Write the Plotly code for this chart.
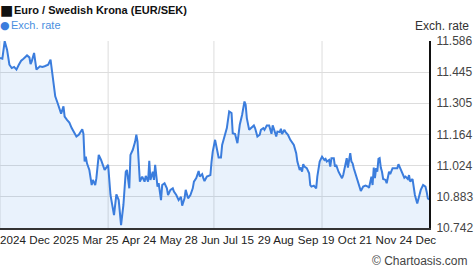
import pandas as pd
import plotly.graph_objects as go

start_date = "2024-12-24"

days = [0, 2, 4, 6, 8, 9, 10, 12, 14, 16,
        18, 20, 23, 25, 26, 27, 29, 30, 31, 34,
        36, 38, 41, 43, 44, 45, 47, 49, 51, 52,
        54, 55, 57, 59, 61, 63, 65, 67, 68, 70,
        71, 72, 73, 74, 76, 78, 79, 81, 82, 84,
        86, 88, 89, 91, 92, 94, 96, 97, 99, 101,
        103, 105, 107, 108, 110, 111, 113, 115, 116, 117,
        119, 121, 123, 124, 126, 127, 128, 130, 131, 132,
        134, 135, 137, 138, 140, 142, 143, 145, 147, 148,
        150, 152, 154, 155, 157, 158, 160, 162, 164, 165,
        167, 169, 170, 172, 173, 174, 176, 179, 180, 181,
        183, 184, 186, 188, 189, 191, 193, 195, 197, 198,
        200, 202, 204, 206, 208, 209, 210, 212, 214, 216,
        217, 219, 221, 222, 224, 225, 227, 229, 231, 232,
        233, 235, 236, 238, 239, 240, 242, 243, 245, 247,
        250, 252, 253, 255, 256, 257, 258, 259, 261, 263,
        264, 265, 267, 269, 270, 272, 274, 276, 277, 278,
        280, 281, 282, 284, 285, 286, 288, 291, 292, 294,
        295, 296, 298, 299, 300, 301, 303, 305, 307, 309,
        311, 313, 314, 316, 317, 318, 319, 320, 321, 322,
        323, 324, 325, 326, 328, 329, 330, 331, 332, 334,
        335, 338, 339, 340, 342, 344, 345, 347, 348, 349,
        351, 352, 353, 355, 356, 358, 360, 362, 363, 364, 365]

rates = [11.510, 11.506, 11.585, 11.547, 11.479, 11.472, 11.464, 11.469, 11.457, 11.479,
         11.497, 11.506, 11.521, 11.512, 11.482, 11.494, 11.532, 11.494, 11.457, 11.472,
         11.469, 11.472, 11.479, 11.502, 11.464, 11.404, 11.336, 11.306, 11.268, 11.258,
         11.291, 11.245, 11.230, 11.218, 11.193, 11.170, 11.155, 11.163, 11.170, 11.188,
         11.167, 11.042, 11.064, 11.034, 11.004, 10.936, 10.959, 10.936, 10.967, 11.072,
         11.049, 11.012, 11.004, 11.019, 11.027, 10.891, 10.831, 10.800, 10.894, 10.868,
         10.755, 10.846, 10.996, 11.004, 10.921, 11.072, 11.095, 11.132, 11.163, 11.132,
         10.951, 10.974, 10.951, 10.977, 10.951, 11.045, 10.959, 10.996, 10.959, 11.027,
         10.929, 10.944, 10.868, 10.936, 10.944, 10.921, 10.891, 10.914, 10.921, 10.906,
         10.891, 10.868, 10.883, 10.843, 10.876, 10.914, 10.876, 10.891, 10.921, 10.951,
         10.967, 10.999, 10.974, 10.985, 10.967, 10.954, 10.974, 10.981, 11.042, 11.087,
         11.140, 11.117, 11.060, 11.060, 11.117, 11.155, 11.193, 11.268, 11.261, 11.170,
         11.166, 11.125, 11.208, 11.253, 11.313, 11.298, 11.238, 11.185, 11.193, 11.205,
         11.193, 11.155, 11.163, 11.185, 11.193, 11.185, 11.205, 11.205, 11.167, 11.205,
         11.190, 11.155, 11.177, 11.175, 11.190, 11.166, 11.185, 11.175, 11.163, 11.140,
         11.117, 11.080, 11.042, 11.004, 11.015, 10.996, 11.030, 11.019, 11.012, 10.989,
         10.936, 10.929, 10.933, 10.921, 10.975, 11.042, 11.064, 11.049, 11.054, 11.042,
         11.049, 11.019, 11.057, 11.057, 11.019, 11.027, 10.996, 10.967, 10.981, 11.034,
         11.057, 11.015, 11.080, 11.042, 11.034, 11.012, 10.974, 10.936, 10.909, 10.929,
         10.933, 10.929, 10.924, 10.974, 10.936, 11.015, 10.967, 11.012, 10.996, 11.054,
         11.057, 11.015, 10.996, 10.963, 10.959, 10.944, 10.981, 10.996, 10.985, 11.012,
         11.012, 11.012, 11.030, 11.019, 10.996, 10.969, 10.974, 10.963, 10.981, 10.951,
         10.963, 10.924, 10.891, 10.853, 10.876, 10.914, 10.936, 10.929, 10.906, 10.876, 10.870]

assert len(days) == len(rates)

# x tick labels (positions in days from start)
xtick_days = [11, 46, 85.5, 118.3, 152, 193.6, 234.6, 269, 302, 345.3]
xtick_text = ["2024", "Dec 2025", "Mar 25", "Apr 24", "May 28",
              "Jun Jul 15", "29 Aug", "Sep 19", "Oct 21", "Nov 24 Dec"]
xgrid_days = [0, 92, 182, 274]

ytick_vals = [10.742, 10.883, 11.024, 11.164, 11.305, 11.445, 11.586]
ytick_text = ["10.742", "10.883", "11.024", "11.164", "11.305", "11.445", "11.586"]

title_text = "Euro / Swedish Krona (EUR/SEK)"
legend_text = "Exch. rate"
axis_title = "Exch. rate"
credit_text = "© Chartoasis.com"

t0 = pd.Timestamp(start_date)
dates = t0 + pd.to_timedelta(days, unit="D")
xtick_dates = t0 + pd.to_timedelta(xtick_days, unit="D")
xgrid_dates = t0 + pd.to_timedelta(xgrid_days, unit="D")
xrange = [t0, t0 + pd.Timedelta(days=365)]

W, H = 474, 269
ML, MR, MT, MB = 0, 45, 41, 41
PW, PH = W - ML - MR, H - MT - MB

def px(x):
    return (x - ML) / PW

def py(y):
    return (H - MB - y) / PH

FONT = "Liberation Sans, Arial, sans-serif"
LINE = "#3b7ddd"
GRID = "#dddddd"

fig = go.Figure()
fig.add_trace(go.Scatter(
    x=dates, y=rates, mode="lines",
    line=dict(color=LINE, width=2),
    fill="tozeroy", fillcolor="rgba(59,140,230,0.11)",
    hoverinfo="skip", showlegend=False,
))

shapes = [dict(type="line", xref="x", yref="paper", x0=d, x1=d, y0=0, y1=1,
               line=dict(color=GRID, width=1), layer="below")
          for d in xgrid_dates]

fig.update_layout(
    width=W, height=H,
    margin=dict(l=ML, r=MR, t=MT, b=MB, pad=0),
    paper_bgcolor="white", plot_bgcolor="white",
    font=dict(family=FONT, size=12, color="#333333"),
    showlegend=False,
    shapes=shapes,
    xaxis=dict(
        type="date", range=xrange,
        tickmode="array", tickvals=xtick_dates, ticktext=xtick_text,
        ticks="", showgrid=False, zeroline=False,
        showline=True, linecolor="#333333", linewidth=2,
        tickfont=dict(size=11.6, color="#222222"),
        ticklabeloverflow="allow",
    ),
    yaxis=dict(
        side="right",
        range=[ytick_vals[0], ytick_vals[-1]],
        tickmode="array", tickvals=ytick_vals, ticktext=ytick_text,
        ticks="", showgrid=True, gridcolor=GRID, gridwidth=1,
        zeroline=False, showline=True, linecolor="#111111", linewidth=2,
        tickfont=dict(size=12, color="#444444"),
        ticklabelstandoff=3,
    ),
    annotations=[
        dict(text="■", x=px(-1), y=py(9.5), xref="paper", yref="paper",
             xanchor="left", yanchor="middle", showarrow=False, borderpad=0,
             font=dict(size=14, color="#111111", family="DejaVu Sans")),
        dict(text="<b>" + title_text + "</b>", x=px(13), y=py(10), xref="paper", yref="paper",
             xanchor="left", yanchor="middle", showarrow=False, borderpad=0,
             font=dict(size=11, color="#111111", family=FONT)),
        dict(text="●", x=px(-1), y=py(25), xref="paper", yref="paper",
             xanchor="left", yanchor="middle", showarrow=False, borderpad=0,
             font=dict(size=11, color=LINE, family="DejaVu Sans")),
        dict(text=legend_text, x=px(10), y=py(24.5), xref="paper", yref="paper",
             xanchor="left", yanchor="middle", showarrow=False, borderpad=0,
             font=dict(size=11, color="#4a8fe0", family=FONT)),
        dict(text=axis_title, x=px(470), y=py(26), xref="paper", yref="paper",
             xanchor="right", yanchor="middle", showarrow=False, borderpad=0,
             font=dict(size=12, color="#333333", family=FONT)),
        dict(text=credit_text, x=px(469), y=py(261), xref="paper", yref="paper",
             xanchor="right", yanchor="middle", showarrow=False, borderpad=0,
             font=dict(size=12, color="#444444", family=FONT)),
    ],
)

fig.write_html("out.html")
